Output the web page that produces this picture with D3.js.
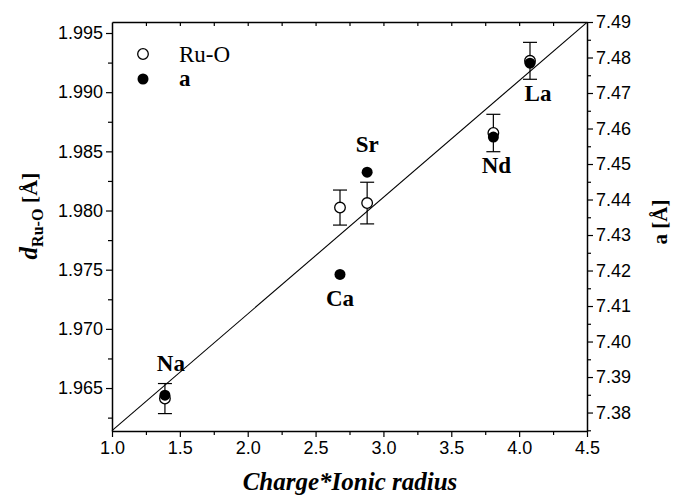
<!DOCTYPE html>
<html>
<head>
<meta charset="utf-8">
<script src="https://cdn.jsdelivr.net/npm/d3@7"></script>
<style>
  body { margin: 0; background: #fff; }
  svg { display: block; }
  .tick text { font-family: "Liberation Sans", Arial, sans-serif; font-size: 18px; fill: #000; }
  .lbl { font-family: "Liberation Serif", "Times New Roman", serif; font-weight: bold; font-size: 23px; fill: #000; }
</style>
</head>
<body>
<div id="chart"></div>
<script>
// ---- data ----
const ions = ['Na', 'Ca', 'Sr', 'Nd', 'La'];
const chargeRadius = [1.39, 2.68, 2.88, 3.81, 4.08];
const ruO = [1.96411, 1.98025, 1.98063, 1.98655, 1.99265];
const ruOErr = [0.00127, 0.00148, 0.00176, 0.00158, 0.00156];
const latticeA = [7.3849, 7.4189, 7.4477, 7.4576, 7.4784];
const fitX = [1.0, 4.5];
const fitY = [1.9614, 1.9959];
const xTicks = [1.0, 1.5, 2.0, 2.5, 3.0, 3.5, 4.0, 4.5];
const leftTicks = [1.965, 1.970, 1.975, 1.980, 1.985, 1.990, 1.995];
const rightTicks = [7.38, 7.39, 7.40, 7.41, 7.42, 7.43, 7.44, 7.45, 7.46, 7.47, 7.48, 7.49];

// label offsets (px) relative to the "a" point
const labelPos = {
  Na: [6, -24], Ca: [0, 32], Sr: [0, -20], Nd: [3, 36], La: [8, 38]
};

const W = 673, H = 496;
const margin = { top: 22, right: 86, bottom: 65, left: 112 };
const iw = W - margin.left - margin.right;
const ih = H - margin.top - margin.bottom;

const svg = d3.select('#chart').append('svg').attr('width', W).attr('height', H);
const g = svg.append('g').attr('transform', `translate(${margin.left},${margin.top})`);

const x = d3.scaleLinear().domain([1.0, 4.5]).range([0, iw]);
const yL = d3.scaleLinear().domain([1.96137, 1.99593]).range([ih, 0]);
const yR = d3.scaleLinear().domain([7.3748, 7.49]).range([ih, 0]);

// minor ticks halfway between majors, kept inside the scale domain
const minor = (arr, step, scale) => {
  const [a, b] = scale.domain();
  const out = arr.map(v => v - step / 2).concat([arr[arr.length - 1] + step / 2]);
  return out.filter(v => v > a && v < b);
};

function styleAxis(sel) {
  sel.select('.domain').attr('stroke', '#000').attr('stroke-width', 1.5);
  sel.selectAll('.tick line').attr('stroke', '#000').attr('stroke-width', 1.2);
}

// bottom
g.append('g').attr('transform', `translate(0,${ih})`)
  .call(d3.axisBottom(x).tickValues(xTicks).tickFormat(d3.format('.1f')).tickSizeInner(6).tickSizeOuter(0).tickPadding(4))
  .call(styleAxis);
g.append('g').attr('transform', `translate(0,${ih})`)
  .call(d3.axisBottom(x).tickValues(minor(xTicks, 0.5, x)).tickFormat('').tickSizeInner(4).tickSizeOuter(0))
  .call(styleAxis).select('.domain').remove();

// top
g.append('g')
  .call(d3.axisTop(x).tickValues(d3.range(1.25, 4.5, 0.25)).tickFormat('').tickSizeInner(-4).tickSizeOuter(0))
  .call(styleAxis);

// left
g.append('g')
  .call(d3.axisLeft(yL).tickValues(leftTicks).tickFormat(d3.format('.3f')).tickSizeInner(6).tickSizeOuter(0).tickPadding(3))
  .call(styleAxis);
g.append('g')
  .call(d3.axisLeft(yL).tickValues(minor(leftTicks, 0.005, yL)).tickFormat('').tickSizeInner(4).tickSizeOuter(0))
  .call(styleAxis).select('.domain').remove();

// right
g.append('g').attr('transform', `translate(${iw},0)`)
  .call(d3.axisRight(yR).tickValues(rightTicks).tickFormat(d3.format('.2f')).tickSizeInner(6).tickSizeOuter(0).tickPadding(3))
  .call(styleAxis);
g.append('g').attr('transform', `translate(${iw},0)`)
  .call(d3.axisRight(yR).tickValues(minor(rightTicks, 0.01, yR)).tickFormat('').tickSizeInner(4).tickSizeOuter(0))
  .call(styleAxis).select('.domain').remove();

// fit line
g.append('line')
  .attr('x1', x(fitX[0])).attr('y1', yL(fitY[0]))
  .attr('x2', x(fitX[1])).attr('y2', yL(fitY[1]))
  .attr('stroke', '#000').attr('stroke-width', 1.1);

// error bars
const cap = 7;
ions.forEach((ion, i) => {
  const cx = x(chargeRadius[i]);
  const lo = yL(ruO[i] - ruOErr[i]), hi = yL(ruO[i] + ruOErr[i]);
  const eb = g.append('g').attr('stroke', '#000').attr('stroke-width', 1.2);
  eb.append('line').attr('x1', cx).attr('x2', cx).attr('y1', lo).attr('y2', hi);
  eb.append('line').attr('x1', cx - cap).attr('x2', cx + cap).attr('y1', lo).attr('y2', lo);
  eb.append('line').attr('x1', cx - cap).attr('x2', cx + cap).attr('y1', hi).attr('y2', hi);
});

// Ru-O open circles
g.selectAll('.open').data(ions).join('circle')
  .attr('cx', (d, i) => x(chargeRadius[i]))
  .attr('cy', (d, i) => yL(ruO[i]))
  .attr('r', 5.3)
  .attr('fill', '#fff').attr('stroke', '#000').attr('stroke-width', 1.3);

// a filled circles
g.selectAll('.filled').data(ions).join('circle')
  .attr('cx', (d, i) => x(chargeRadius[i]))
  .attr('cy', (d, i) => yR(latticeA[i]))
  .attr('r', 5.5)
  .attr('fill', '#000');

// ion labels
g.selectAll('.ion').data(ions).join('text')
  .attr('class', 'lbl')
  .attr('text-anchor', 'middle')
  .attr('x', (d, i) => x(chargeRadius[i]) + labelPos[d][0])
  .attr('y', (d, i) => yR(latticeA[i]) + labelPos[d][1])
  .text(d => d);

// legend
const lg = svg.append('g');
lg.append('circle').attr('cx', 143).attr('cy', 54).attr('r', 5.3)
  .attr('fill', '#fff').attr('stroke', '#000').attr('stroke-width', 1.3);
lg.append('text').attr('x', 179).attr('y', 62)
  .style('font-family', '"Liberation Serif", "Times New Roman", serif').style('font-size', '23px')
  .text('Ru-O');
lg.append('circle').attr('cx', 143).attr('cy', 79).attr('r', 5.5).attr('fill', '#000');
lg.append('text').attr('class', 'lbl').attr('x', 179).attr('y', 86).style('font-size', '23px').text('a');

// axis titles
svg.append('text')
  .attr('class', 'lbl')
  .attr('text-anchor', 'middle')
  .attr('x', 350).attr('y', 490)
  .style('font-style', 'italic').style('font-size', '25px')
  .text('Charge*Ionic radius');

const lt = svg.append('text')
  .attr('class', 'lbl')
  .attr('text-anchor', 'middle')
  .attr('transform', 'translate(37,216) rotate(-90)')
  .style('font-size', '22px');
lt.append('tspan').style('font-style', 'italic').style('font-size', '25px').text('d');
lt.append('tspan').attr('dy', 6).style('font-size', '16px').text('Ru-O');
lt.append('tspan').attr('dy', -6).text(' [Å]');

svg.append('text')
  .attr('class', 'lbl')
  .attr('text-anchor', 'middle')
  .attr('transform', 'translate(667,222) rotate(-90)')
  .style('font-size', '21px')
  .text('a [Å]');
</script>
</body>
</html>
